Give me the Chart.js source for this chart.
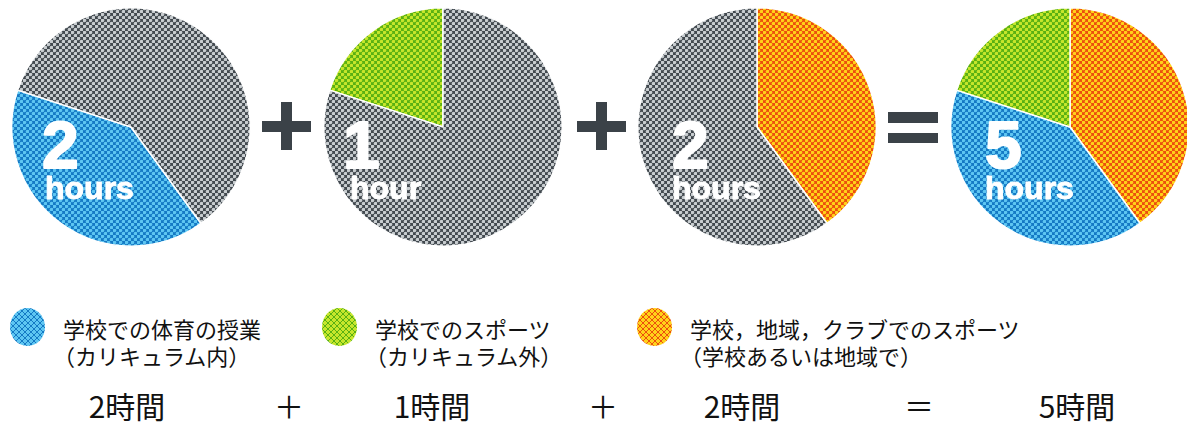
<!DOCTYPE html>
<html lang="ja">
<head>
<meta charset="utf-8">
<title>運動時間の内訳</title>
<script src="https://cdn.jsdelivr.net/npm/chart.js@4.4.1/dist/chart.umd.min.js"></script>
<style>
  html, body { margin: 0; padding: 0; background: #fff; }
  body { width: 1187px; height: 425px; position: relative; overflow: hidden;
         font-family: "Noto Sans CJK JP", "Noto Sans", sans-serif; color: #111; }
  .pie { position: absolute; top: 7px; width: 240px; height: 240px; }
  .bar { position: absolute; background: #3b4248; }
  .legend { position: absolute; top: 315px; font-size: 22px; line-height: 27px; white-space: nowrap; }
  .legend .sub { position: relative; left: -10px; }
  .swatch { position: absolute; top: 308px; width: 35px; height: 38px; border-radius: 50%;
            background-size: 6px 6px; background-position: 0 0, 3px 3px; }
  .sum { position: absolute; top: 385px; font-size: 30px; line-height: 40px; transform: translateX(-50%);
         white-space: nowrap; }
</style>
</head>
<body>
<div class="pie" style="left:11px"><canvas id="pie0" width="240" height="240"></canvas></div>
<div class="pie" style="left:323px"><canvas id="pie1" width="240" height="240"></canvas></div>
<div class="pie" style="left:637px"><canvas id="pie2" width="240" height="240"></canvas></div>
<div class="pie" style="left:950px"><canvas id="pie3" width="240" height="240"></canvas></div>

<!-- operators between the pies -->
<div class="bar" style="left:262px;top:121px;width:49px;height:11px"></div>
<div class="bar" style="left:281px;top:102px;width:11px;height:48px"></div>
<div class="bar" style="left:577px;top:121px;width:49px;height:11px"></div>
<div class="bar" style="left:596px;top:102px;width:11px;height:48px"></div>
<div class="bar" style="left:888px;top:112px;width:50px;height:11px"></div>
<div class="bar" style="left:888px;top:133px;width:50px;height:10px"></div>

<div id="legend"></div>
<div id="sums"></div>

<script>
// Activity categories (legend text, two lines each)
const categories = [
  ['学校での体育の授業', '（カリキュラム内）'],
  ['学校でのスポーツ', '（カリキュラム外）'],
  ['学校，地域，クラブでのスポーツ', '（学校あるいは地域で）']
];
// Hours per category
const hours = [2, 1, 2];
// Clockwise order of the categories in the combined pie, starting at 12 o'clock
const sliceOrder = [2, 0, 1];
// Unit words printed inside the pies
const unitOne = 'hour';
const unitMany = 'hours';
const unitJa = '時間';

const total = hours.reduce((a, b) => a + b, 0);

// Halftone colours: [base, dot]
const tones = [
  ['#1479c4', '#5ec6f2'],   // blue
  ['#58b012', '#c6e62c'],   // green
  ['#ec4e0e', '#ffd21a']    // orange
];
const greyTone = ['#41484e', '#c8cdd0'];

function halftone(tone) {
  const c = document.createElement('canvas');
  c.width = 6; c.height = 6;
  const g = c.getContext('2d');
  g.fillStyle = tone[0];
  g.fillRect(0, 0, 6, 6);
  g.fillStyle = tone[1];
  [[1.5, 1.5], [4.5, 4.5]].forEach(([x, y]) => {
    g.beginPath(); g.arc(x, y, 1.8, 0, Math.PI * 2); g.fill();
  });
  return g.createPattern(c, 'repeat');
}

const patterns = tones.map(halftone);
const greyPattern = halftone(greyTone);

// White number + unit written across the lower-left of each pie
const pieText = {
  id: 'pieText',
  afterDatasetsDraw(chart, args, opts) {
    const arc = chart.getDatasetMeta(0).data[0];
    const ctx = chart.ctx;
    ctx.save();
    ctx.fillStyle = '#fff';
    ctx.strokeStyle = '#fff';
    ctx.lineJoin = 'round';
    ctx.textBaseline = 'alphabetic';
    ctx.font = 'bold 66px "Liberation Sans", Arial, sans-serif';
    ctx.lineWidth = 2;
    ctx.strokeText(String(opts.value), arc.x + opts.nx, arc.y + 41);
    ctx.fillText(String(opts.value), arc.x + opts.nx, arc.y + 41);
    ctx.font = 'bold 32px "Liberation Sans", Arial, sans-serif';
    ctx.lineWidth = 1;
    const unit = opts.value === 1 ? unitOne : unitMany;
    ctx.strokeText(unit, arc.x + opts.ux, arc.y + 72);
    ctx.fillText(unit, arc.x + opts.ux, arc.y + 72);
    ctx.restore();
  }
};

function makePie(id, data, colors, rotation, text) {
  new Chart(document.getElementById(id), {
    type: 'pie',
    data: {
      datasets: [{
        data: data,
        backgroundColor: colors,
        borderColor: '#ffffff',
        borderWidth: 1.5,
        hoverOffset: 0,
        offset: 0
      }]
    },
    options: {
      responsive: false,
      animation: false,
      rotation: rotation,
      layout: { padding: 0 },
      events: [],
      plugins: {
        legend: { display: false },
        tooltip: { enabled: false },
        pieText: text
      }
    },
    plugins: [pieText]
  });
}

// Starting angle of each category inside the combined pie
function startAngle(cat) {
  let before = 0;
  for (const i of sliceOrder) {
    if (i === cat) break;
    before += hours[i];
  }
  return 360 * before / total;
}

const textOffsets = [
  { nx: -89, ux: -86 },
  { nx: -100, ux: -93 },
  { nx: -85, ux: -85 },
  { nx: -85, ux: -85 }
];

// One pie per category: its share against the rest of the total
hours.forEach((h, i) => {
  makePie('pie' + i, [h, total - h], [patterns[i], greyPattern], startAngle(i),
          { value: h, nx: textOffsets[i].nx, ux: textOffsets[i].ux });
});
// Combined pie
makePie('pie3', sliceOrder.map(i => hours[i]), sliceOrder.map(i => patterns[i]), 0,
        { value: total, nx: textOffsets[3].nx, ux: textOffsets[3].ux });

// Legend
const legendX = [10, 322, 637];
const legendRoot = document.getElementById('legend');
categories.forEach((lines, i) => {
  const sw = document.createElement('div');
  sw.className = 'swatch';
  sw.style.left = legendX[i] + 'px';
  const dot = `radial-gradient(circle, ${tones[i][1]} 1.6px, transparent 2px)`;
  sw.style.backgroundColor = tones[i][0];
  sw.style.backgroundImage = `${dot}, ${dot}`;
  legendRoot.appendChild(sw);

  const tx = document.createElement('div');
  tx.className = 'legend';
  tx.style.left = (legendX[i] + 53) + 'px';
  tx.innerHTML = `<div>${lines[0]}</div><div class="sub">${lines[1]}</div>`;
  legendRoot.appendChild(tx);
});

// Sum written out underneath
const sumItems = [
  [hours[0] + unitJa, 127], ['＋', 289],
  [hours[1] + unitJa, 432], ['＋', 603],
  [hours[2] + unitJa, 742], ['＝', 919],
  [total + unitJa, 1077]
];
const sumsRoot = document.getElementById('sums');
sumItems.forEach(([t, x]) => {
  const d = document.createElement('div');
  d.className = 'sum';
  d.style.left = x + 'px';
  d.textContent = t;
  sumsRoot.appendChild(d);
});
</script>
</body>
</html>
